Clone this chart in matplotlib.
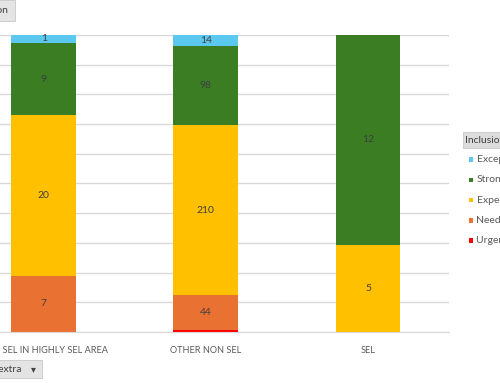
import matplotlib
matplotlib.use("Agg")
import matplotlib.pyplot as plt
from matplotlib.patches import Rectangle
import numpy as np

# pivot chart data: counts per inclusion rating, per area type
categories = ["NON SEL IN HIGHLY SEL AREA", "OTHER NON SEL", "SEL"]
series_names = ["Exceptional", "Strong", "Expected", "Needs Improvement", "Urgent Support"]
exceptional = [1, 14, 0]
strong = [9, 98, 12]
expected = [20, 210, 5]
needs = [7, 44, 0]
urgent = [0, 2, 0]

colors = ["#5BC8F0", "#3B7D23", "#FFC000", "#E97132", "#FF0000"]

plt.rcParams["font.family"] = ["Lato", "DejaVu Sans"]

fig = plt.figure(figsize=(5.0, 3.83), dpi=100)
# axes deliberately wider than the figure on the left (cropped screenshot)
ax = fig.add_axes([-0.0746, 0.1332, 0.9726, 0.7755])

values = np.array([exceptional, strong, expected, needs, urgent], dtype=float)
totals = values.sum(axis=0)
shares = values / totals

x = np.arange(len(categories))
bottom = np.zeros(len(categories))
# stack from the bottom: urgent first, exceptional on top
for i in range(len(series_names) - 1, -1, -1):
    ax.bar(x, shares[i], 0.4, bottom=bottom, color=colors[i], zorder=2)
    for j in range(len(categories)):
        if shares[i, j] > 0.01:
            ax.text(x[j], bottom[j] + shares[i, j] / 2, f"{int(values[i, j])}",
                    ha="center", va="center", fontsize=7.5, color="#404040", zorder=3)
    bottom += shares[i]

ax.set_xlim(-0.5, 2.5)
ax.set_ylim(0, 1)
ax.set_yticks(np.linspace(0, 1, 11))
ax.yaxis.grid(True, color="#D9D9D9", linewidth=1.0, zorder=0)
ax.set_axisbelow(True)
ax.tick_params(axis="y", length=0, labelleft=False)
ax.set_xticks(x)
ax.set_xticklabels(categories, fontsize=6.6, color="#595959")
ax.tick_params(axis="x", length=0, pad=10)
for s in ["left", "right", "top"]:
    ax.spines[s].set_visible(False)
ax.spines["bottom"].set_color("#D9D9D9")

W, H = 500.0, 383.0

def px(xp, yp):
    return xp / W, 1 - yp / H

# legend panel on the right (cropped)
fig.patches.append(Rectangle(px(463, 148), 40 / W, 15.5 / H, transform=fig.transFigure,
                             facecolor="#DCDCDC", edgecolor="#C8C8C8", linewidth=0.6))
fig.text(*px(465, 140.5), "Inclusion Rating", fontsize=7.5, color="#404040", va="center")
for k, name in enumerate(series_names):
    yk = 159.5 + 20.3 * k
    fig.patches.append(Rectangle(px(469, yk + 2.2), 4.4 / W, 4.4 / H, transform=fig.transFigure,
                                 facecolor=colors[k], edgecolor="none"))
    fig.text(*px(476.5, yk), name, fontsize=7.5, color="#595959", va="center")

# field buttons of the pivot chart
fig.patches.append(Rectangle(px(-10, 21), 25 / W, 21 / H, transform=fig.transFigure,
                             facecolor="#E4E4E4", edgecolor="#C8C8C8", linewidth=0.6))
fig.text(*px(7.5, 10.5), "Count of Inclusion", fontsize=7.5, color="#404040", va="center", ha="right")
fig.patches.append(Rectangle(px(-10, 378), 52 / W, 18 / H, transform=fig.transFigure,
                             facecolor="#E4E4E4", edgecolor="#C8C8C8", linewidth=0.6))
fig.text(*px(21.5, 369), "Sel extra", fontsize=7.5, color="#404040", va="center", ha="right")
fig.text(*px(33, 369), "\u25BE", fontsize=7, color="#404040", va="center", ha="center",
         family="DejaVu Sans")

fig.savefig("out.png", dpi=100)
